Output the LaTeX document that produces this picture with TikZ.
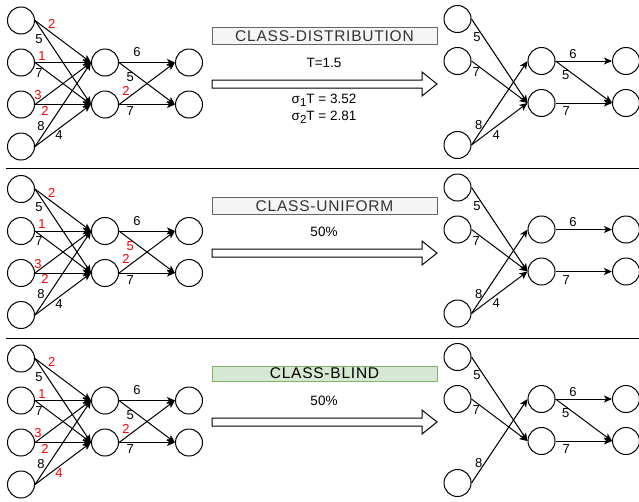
\documentclass[tikz,border=0pt]{standalone}
\usepackage{fontspec}
\setmainfont{Liberation Sans}
\usetikzlibrary{arrows.meta}

\definecolor{boxfill}{HTML}{F5F5F5}
\definecolor{boxline}{HTML}{666666}
\definecolor{boxtext}{HTML}{333333}
\definecolor{blindfill}{HTML}{D5E8D4}
\definecolor{blindline}{HTML}{82B366}
\newcommand\subidx[1]{\raisebox{-3pt}{\fontsize{11.5}{12}\selectfont#1}}

\begin{document}
\begin{tikzpicture}[x=1pt,y=-1pt,
  neuron/.style={circle,draw,line width=1pt,minimum size=27pt,inner sep=0pt},
  syn/.style={-{Stealth[length=8pt,width=7pt,inset=2pt]},line width=1pt},
  wt/.style={font=\fontsize{13}{14}\selectfont,inner sep=0pt},
  mbox/.style={draw=boxline,fill=boxfill,text=boxtext,line width=.8pt,
    minimum width=225pt,minimum height=17.5pt,inner sep=0pt,
    font=\fontsize{15.5}{16}\selectfont\addfontfeatures{LetterSpace=5}},
  capt/.style={font=\fontsize{13.5}{14}\selectfont,inner sep=0pt}]
 \useasboundingbox (0,0) rectangle (639,501);

 % pruned networks, one row per method
 \foreach \p/\y/\cf/\cg in {a/20.5/black/black, b/189/red/black, c/358.5/black/red} {
   % original network
   \foreach \k in {1,...,4}
     \node[neuron] (\p-i\k) at (21,{\y+42*(\k-1)}) {};
   \node[neuron] (\p-h1) at (105,\y+42) {};
   \node[neuron] (\p-h2) at (105,\y+84) {};
   \node[neuron] (\p-o1) at (189,\y+42) {};
   \node[neuron] (\p-o2) at (189,\y+84) {};
   \draw[syn] (\p-i1.east) -- node[wt,text=red,pos=.3,yshift=9pt]{2} (\p-h1.west);
   \draw[syn] (\p-i1.east) -- node[wt,pos=.07,yshift=-12.5pt]{5} (\p-h2.west);
   \draw[syn] (\p-i2.east) -- node[wt,text=red,pos=.125,yshift=6.5pt]{1} (\p-h1.west);
   \draw[syn] (\p-i2.east) -- node[wt,pos=.07,yshift=-7.5pt]{7} (\p-h2.west);
   \draw[syn] (\p-i3.east) -- node[wt,text=red,pos=.055,yshift=7pt]{3} (\p-h1.west);
   \draw[syn] (\p-i3.east) -- node[wt,text=red,pos=.18,yshift=-6pt]{2} (\p-h2.west);
   \draw[syn] (\p-i4.east) -- node[wt,pos=.107,yshift=11.5pt]{8} (\p-h1.west);
   \draw[syn] (\p-i4.east) -- node[wt,text=\cg,pos=.43,yshift=-7pt]{4} (\p-h2.west);
   \draw[syn] (\p-h1.east) -- node[wt,pos=.32,yshift=10pt]{6} (\p-o1.west);
   \draw[syn] (\p-h1.east) -- node[wt,text=\cf,pos=.2,yshift=-6.5pt]{5} (\p-o2.west);
   \draw[syn] (\p-h2.east) -- node[wt,text=red,pos=.125,yshift=8.5pt]{2} (\p-o1.west);
   \draw[syn] (\p-h2.east) -- node[wt,pos=.2,yshift=-7pt]{7} (\p-o2.west);
   % pruned network
   \node[neuron] (\p-j1) at (457.5,\y-1.5) {};
   \node[neuron] (\p-j2) at (457.5,\y+40.5) {};
   \node[neuron] (\p-j3) at (457.5,\y+124.5) {};
   \node[neuron] (\p-k1) at (541.5,\y+40.5) {};
   \node[neuron] (\p-k2) at (541.5,\y+82.5) {};
   \node[neuron] (\p-q1) at (626,\y+40.5) {};
   \node[neuron] (\p-q2) at (626,\y+82.5) {};
   \draw[syn] (\p-j1.east) -- node[wt,pos=.1,yshift=-10pt]{5} (\p-k2.west);
   \draw[syn] (\p-j2.east) -- node[wt,pos=.086,yshift=-7.5pt]{7} (\p-k2.west);
   \draw[syn] (\p-j3.east) -- node[wt,pos=.128,yshift=9pt]{8} (\p-k1.west);
   \draw[syn] (\p-k1.east) -- node[wt,pos=.31,yshift=7pt]{6} (\p-q1.west);
   \draw[syn] (\p-k2.east) -- node[wt,pos=.19,yshift=-8.5pt]{7} (\p-q2.west);
 }
 \foreach \p in {a,b}
   \draw[syn] (\p-j3.east) -- node[wt,pos=.44,yshift=-8.5pt]{4} (\p-k2.west);
 \foreach \p in {a,c}
   \draw[syn] (\p-k1.east) -- node[wt,pos=.18,yshift=-6.5pt]{5} (\p-q2.west);

 % methods
 \node[mbox] (a-m) at (324.5,36) {CLASS-DISTRIBUTION};
 \node[capt] (a-t) at (324,63) {T=1.5};
 \node[capt] (a-s1) at (324,100) {σ\subidx{1}T = 3.52};
 \node[capt] (a-s2) at (324,117) {σ\subidx{2}T = 2.81};
 \node[mbox] (b-m) at (324.5,206) {CLASS-UNIFORM};
 \node[capt] (b-t) at (324,232) {50\%};
 \node[mbox,fill=blindfill,draw=blindline,text=black,minimum height=15pt] (c-m) at (324.5,373.5) {CLASS-BLIND};
 \node[capt] (c-t) at (324,401) {50\%};
 \foreach \c in {84,253,422}
   \draw[line width=1pt,fill=white] (212,\c-4) -- (422,\c-4) -- (422,\c-12) -- (437,\c)
     -- (422,\c+12) -- (422,\c+4) -- (212,\c+4) -- cycle;

 \draw[line width=1pt] (6,168.3) -- (639,168.3);
 \draw[line width=1pt] (6,338) -- (639,338);
\end{tikzpicture}
\end{document}
